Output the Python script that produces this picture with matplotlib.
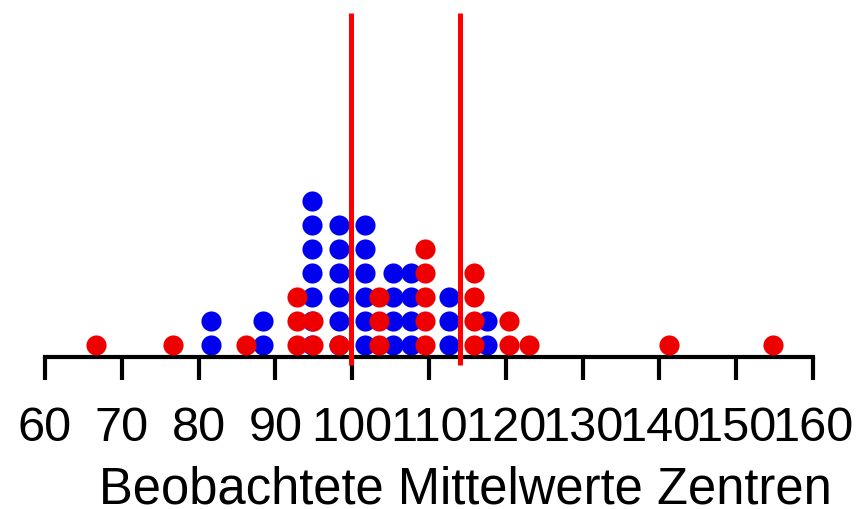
import numpy as np
import matplotlib.pyplot as plt

plt.rcParams['font.family'] = ['Liberation Sans', 'DejaVu Sans']

# observed centre means, one entry per centre
blue_values = ([81.6] * 2 + [88.4] * 2 + [94.8] * 7 + [98.3] * 6 + [101.7] * 6
               + [105.3] * 4 + [107.7] * 4 + [112.6] * 3 + [117.6] * 2)
red_values = ([66.6, 76.7, 86.2] + [92.8] * 3 + [94.9] * 2 + [98.3] + [103.5] * 3
              + [109.5] * 5 + [115.9] * 4 + [120.4] * 2 + [123.0, 141.3, 154.8])
ref_lines = [99.8, 114.1]
ticks = list(range(60, 161, 10))


def stack(values):
    xs, ys = [], []
    seen = {}
    for v in values:
        n = seen.get(v, 0)
        xs.append(v)
        ys.append(n + 0.5)
        seen[v] = n + 1
    return np.array(xs), np.array(ys)


fig = plt.figure(figsize=(8.62, 5.09), dpi=100)
ax = fig.add_axes([45 / 862, 1 - 357 / 509, 768 / 862, 344 / 509])

bx, by = stack(blue_values)
rx, ry = stack(red_values)
ax.scatter(bx, by, s=210, color='#0000ee', linewidths=0, zorder=2)
ax.scatter(rx, ry, s=210, color='#ee0000', linewidths=0, zorder=3)

for v in ref_lines:
    ax.plot([v, v], [-0.33, 14.33], color='#ff0000', lw=3.6, zorder=4,
            clip_on=False, solid_capstyle='butt')

ax.set_xlim(60, 160)
ax.set_ylim(0, 14.33)
for side in ['top', 'right', 'left']:
    ax.spines[side].set_visible(False)
ax.spines['bottom'].set_linewidth(3)
ax.set_yticks([])
ax.set_xticks(ticks)
ax.set_xticklabels([str(t) for t in ticks])
ax.tick_params(axis='x', direction='out', length=16.5, width=3, labelsize=35, pad=19)

fig.text(465 / 862, 1 - 503 / 509, 'Beobachtete Mittelwerte Zentren',
         ha='center', va='baseline', fontsize=36.5)

fig.savefig('out.png', dpi=100)
